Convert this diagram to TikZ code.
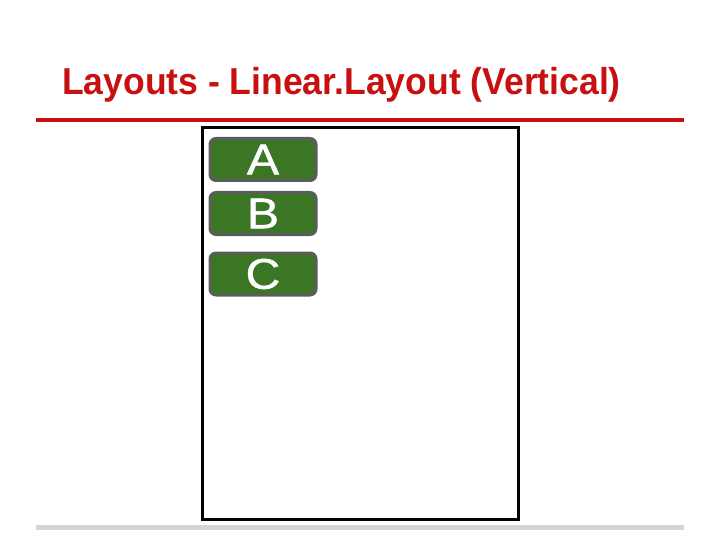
\documentclass[tikz,border=0pt]{standalone}
\usepackage{fontspec}
\setmainfont{Liberation Sans}
\newfontface\btnfont{Liberation Sans}[FakeBold=1]
\usepackage{tikz}
\definecolor{titlered}{RGB}{200,16,16}
\definecolor{btngreen}{RGB}{58,118,36}
\definecolor{btnedge}{RGB}{92,92,92}
\definecolor{rulegray}{RGB}{210,214,212}
\newcommand{\widetext}[1]{\scalebox{1.12}[1]{#1}}

\begin{document}
\begin{tikzpicture}[x = 1pt, y = -1pt,
                    button/.style = {draw = btnedge, fill = btngreen, line width = 3pt,
                                     rounded corners = 6pt, minimum width = 106pt,
                                     minimum height = 42pt, inner sep = 0pt,
                                     text = white, font = \fontsize{43}{43}\btnfont}]
  \useasboundingbox (0,0) rectangle (720,540);
  \node [anchor = base west, text = titlered, inner sep = 0pt,
         font = \fontsize{37.5}{40}\selectfont\bfseries] (title) at (62,95)
        {\scalebox{0.947}[1]{Layouts - Linear.Layout (Vertical)}};
  \draw [titlered, line width = 4pt] (36,120) -- (684,120);
  \draw [rulegray, line width = 5pt] (36,527) -- (684,527);

  \node [draw, line width = 3pt, minimum width = 316pt, minimum height = 391pt,
         inner sep = 0pt] (screen) at (360,323.5) {};
  \node [button] (A) at (263,159.5) {\widetext{A}};
  \node [button] (B) at (263,213.5) {\widetext{B}};
  \node [button] (C) at (263,274) {\widetext{C}};
\end{tikzpicture}
\end{document}
